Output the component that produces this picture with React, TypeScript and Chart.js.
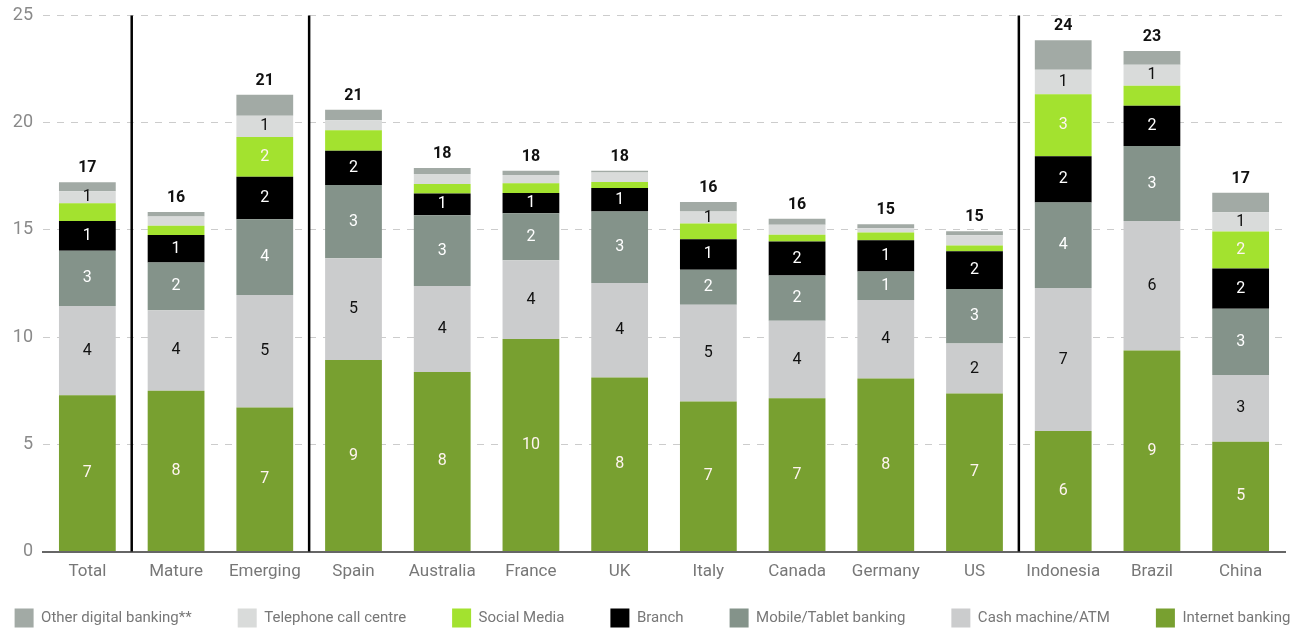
import React, { useEffect, useRef } from "react";
import { Chart, registerables } from "chart.js";
Chart.register(...registerables);

const categories = ["Total", "Mature", "Emerging", "Spain", "Australia", "France", "UK", "Italy", "Canada", "Germany", "US", "Indonesia", "Brazil", "China"];
const internetBanking = [7.29, 7.5, 6.72, 8.93, 8.38, 9.91, 8.12, 7.0, 7.15, 8.07, 7.37, 5.62, 9.38, 5.12];
const cashMachine = [4.16, 3.76, 5.25, 4.75, 4.0, 3.68, 4.4, 4.51, 3.61, 3.66, 2.33, 6.67, 6.04, 3.12];
const mobileTablet = [2.58, 2.22, 3.53, 3.42, 3.31, 2.19, 3.34, 1.63, 2.11, 1.33, 2.55, 3.99, 3.49, 3.08];
const branch = [1.39, 1.28, 1.98, 1.59, 1.01, 0.94, 1.09, 1.43, 1.59, 1.46, 1.76, 2.16, 1.88, 1.88];
const socialMedia = [0.83, 0.43, 1.85, 0.96, 0.44, 0.46, 0.29, 0.73, 0.31, 0.36, 0.26, 2.89, 0.93, 1.73];
const telephoneCallCentre = [0.55, 0.44, 0.99, 0.47, 0.47, 0.38, 0.44, 0.56, 0.47, 0.2, 0.48, 1.14, 0.98, 0.9];
const otherDigital = [0.42, 0.21, 0.98, 0.48, 0.28, 0.2, 0.08, 0.44, 0.28, 0.19, 0.19, 1.38, 0.65, 0.91];
const separatorsAfter = [0, 2, 10];
const yTicks = [0, 5, 10, 15, 20, 25];

const seriesDefs = [
  { label: "Internet banking", data: internetBanking, color: "#78a030", text: "#fff4f0", min: 0 },
  { label: "Cash machine/ATM", data: cashMachine, color: "#cbcccd", text: "#111111", min: 0 },
  { label: "Mobile/Tablet banking", data: mobileTablet, color: "#84938a", text: "#ffffff", min: 0 },
  { label: "Branch", data: branch, color: "#000000", text: "#ffffff", min: 0 },
  { label: "Social Media", data: socialMedia, color: "#a3e22f", text: "#fff4f0", min: 1.5 },
  { label: "Telephone call centre", data: telephoneCallCentre, color: "#d9dbda", text: "#111111", min: 0.5 },
  { label: "Other digital banking**", data: otherDigital, color: "#a2aaa5", text: "#111111", min: Infinity },
];

const FONT = "Roboto, 'DejaVu Sans', sans-serif";
const LEGEND_PAD = 46;
const LEGEND_HEIGHT = 47;
const LEGEND_ITEM_CENTER = 618;

const legendPatch = {
  id: "legendPatch",
  beforeLayout(chart: any) {
    const lg = chart.legend;
    if (lg && !lg._patched) {
      const orig = lg.fit.bind(lg);
      lg.fit = function () {
        const mw = this.maxWidth;
        this.maxWidth = mw + 300;
        orig();
        this.maxWidth = mw;
        this.width = Math.min(this.width, mw);
        this.height = LEGEND_HEIGHT;
      };
      lg._patched = true;
    }
  },
  afterLayout(chart: any) {
    const lg = chart.legend;
    if (!lg) return;
    lg.top = LEGEND_ITEM_CENTER - 9.5 - LEGEND_PAD;
    lg.bottom = chart.height;
    lg.left -= 100;
    lg.right += 120;
  },
};

const labelsPlugin = {
  id: "customLabels",
  afterDatasetsDraw(chart: any) {
    const ctx = chart.ctx;
    const x = chart.scales.x;
    const y = chart.scales.y;
    const area = chart.chartArea;
    ctx.save();
    ctx.strokeStyle = "#000";
    ctx.lineWidth = 2.5;
    separatorsAfter.forEach((i) => {
      const px = (x.getPixelForValue(i) + x.getPixelForValue(i + 1)) / 2;
      ctx.beginPath();
      ctx.moveTo(px, area.top);
      ctx.lineTo(px, area.bottom);
      ctx.stroke();
    });
    ctx.textAlign = "center";
    ctx.textBaseline = "middle";
    ctx.font = `16px ${FONT}`;
    chart.data.datasets.forEach((ds: any, di: number) => {
      const def = seriesDefs[di];
      const meta = chart.getDatasetMeta(di);
      meta.data.forEach((bar: any, i: number) => {
        const v = ds.data[i];
        if (v < def.min) return;
        ctx.fillStyle = def.text;
        ctx.fillText(String(Math.round(v)), bar.x, (bar.y + bar.base) / 2);
      });
    });
    ctx.font = `bold 16px ${FONT}`;
    ctx.fillStyle = "#111";
    ctx.textBaseline = "bottom";
    categories.forEach((_, i) => {
      let s = 0;
      seriesDefs.forEach((d) => (s += d.data[i]));
      ctx.fillText(String(Math.round(s)), x.getPixelForValue(i), y.getPixelForValue(s) - 6);
    });
    ctx.restore();
  },
};

export default function App() {
  const ref = useRef<HTMLCanvasElement | null>(null);
  useEffect(() => {
    document.body.style.margin = "0";
    const chart = new Chart(ref.current as HTMLCanvasElement, {
      type: "bar",
      data: {
        labels: categories,
        datasets: seriesDefs.map((d) => ({
          label: d.label,
          data: d.data,
          backgroundColor: d.color,
          borderWidth: 0,
          barPercentage: 0.64,
          categoryPercentage: 1,
        })),
      },
      options: {
        animation: false,
        responsive: true,
        maintainAspectRatio: false,
        layout: { padding: { top: 3, right: 10, left: 0, bottom: 0 } },
        plugins: {
          legend: {
            position: "bottom",
            reverse: true,
            labels: {
              boxWidth: 19,
              boxHeight: 19,
              padding: LEGEND_PAD,
              color: "#777",
              font: { family: FONT, size: 15 },
            },
          },
          tooltip: { enabled: false },
        },
        scales: {
          x: {
            stacked: true,
            grid: { display: false },
            border: { color: "#666", width: 2 },
            ticks: { color: "#777", font: { family: FONT, size: 17 }, padding: 2 },
          },
          y: {
            stacked: true,
            min: 0,
            max: 25,
            afterBuildTicks: (s: any) => {
              s.ticks = yTicks.map((v) => ({ value: v }));
            },
            afterFit: (s: any) => {
              s.width = 43;
              s.paddingTop = 15.5;
            },
            border: { display: false, dash: [7, 7] },
            grid: {
              color: (c: any) => (c.tick && c.tick.value === 0 ? "rgba(0,0,0,0)" : "#cccccc"),
              lineWidth: 1,
              drawTicks: false,
            },
            ticks: { color: "#8a8a8a", font: { family: FONT, size: 18 }, padding: 10 },
          },
        },
      },
      plugins: [legendPatch, labelsPlugin],
    });
    return () => chart.destroy();
  }, []);
  return (
    <div style={{ position: "fixed", left: 0, top: 0, width: 1295, height: 631 }}>
      <canvas ref={ref} />
    </div>
  );
}
